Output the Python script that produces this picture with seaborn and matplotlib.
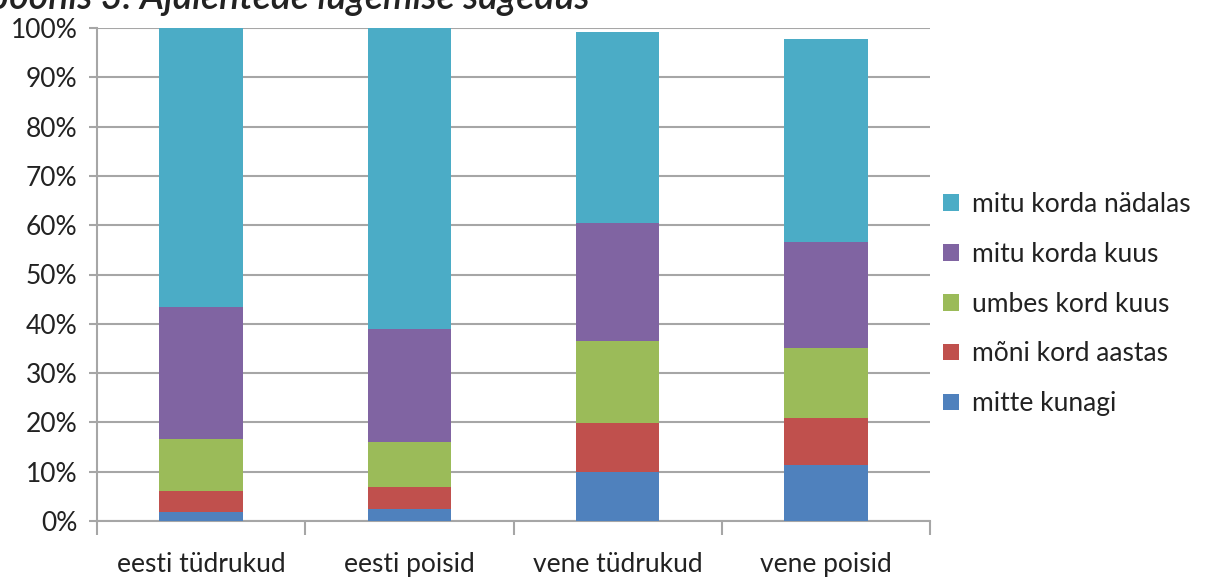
import numpy as np
import matplotlib.pyplot as plt
import pandas as pd
import seaborn as sns

# andmed (protsendid, loetud jooniselt)
groups = ['eesti tüdrukud', 'eesti poisid', 'vene tüdrukud', 'vene poisid']
series = ['mitte kunagi', 'mõni kord aastas', 'umbes kord kuus', 'mitu korda kuus', 'mitu korda nädalas']
mitte_kunagi = [1.8, 2.4, 9.9, 11.4]
moni_kord_aastas = [4.3, 4.5, 10.0, 9.5]
umbes_kord_kuus = [10.5, 9.1, 16.6, 14.2]
mitu_korda_kuus = [26.8, 22.9, 23.9, 21.5]
mitu_korda_nadalas = [56.6, 61.1, 38.8, 41.2]
colors = ['#4F81BD', '#C0504D', '#9BBB59', '#8064A2', '#4BACC6']

values = [mitte_kunagi, moni_kord_aastas, umbes_kord_kuus, mitu_korda_kuus, mitu_korda_nadalas]
rows = []
for s, v in zip(series, values):
    for g, val in zip(groups, v):
        rows.append({'grupp': g, 'sari': s, 'protsent': val})
df = pd.DataFrame(rows)

sns.set_style('white')
plt.rcParams['font.family'] = ['Lato', 'DejaVu Sans']

fig = plt.figure(figsize=(12.18, 5.79), dpi=100)
ax = fig.add_axes([97 / 1218, 1 - 521 / 579, 833 / 1218, 493 / 579])

bottom = np.zeros(len(groups))
for s, c in zip(series, colors):
    d = df[df['sari'] == s]
    sns.barplot(data=d, x='grupp', y='protsent', color=c, saturation=1, width=0.4,
                bottom=bottom, label=s, ax=ax, errorbar=None, linewidth=0, zorder=3)
    bottom += d['protsent'].values

ax.set_ylim(0, 100)
ax.set_xlim(-0.5, 3.5)
ax.set_yticks(range(0, 101, 10))
ax.set_yticklabels([f'{t}%' for t in range(0, 101, 10)], fontsize=19, color='#222222')
ax.yaxis.grid(True, color='#A6A6A6', linewidth=1.5, zorder=0)
ax.set_xlabel('')
ax.set_ylabel('')
ax.set_xticks([0, 1, 2, 3])
ax.set_xticklabels(groups, fontsize=19, color='#222222')
ax.tick_params(axis='x', length=0, pad=22)
ax.tick_params(axis='y', length=6, width=1.5, color='#A6A6A6', left=True, pad=8)
# kategooriate vahelised kriipsud
ax.set_xticks([-0.5, 0.5, 1.5, 2.5, 3.5], minor=True)
ax.tick_params(axis='x', which='minor', length=10, width=1.5, color='#A6A6A6', bottom=True)
for side in ['top', 'right']:
    ax.spines[side].set_visible(False)
ax.spines['left'].set_color('#A6A6A6')
ax.spines['left'].set_linewidth(1.5)
ax.spines['bottom'].set_color('#A6A6A6')
ax.spines['bottom'].set_linewidth(1.5)

handles, labels = ax.get_legend_handles_labels()
ax.legend(handles[::-1], labels[::-1], loc='center left', bbox_to_anchor=(1.0, 0.44),
          frameon=False, fontsize=19, handlelength=0.6, handleheight=0.6,
          labelspacing=0.94, handletextpad=0.5, borderpad=0, labelcolor='#222222')

fig.text(-0.004, 1 - 9 / 579, 'Joonis 3. Ajalehtede lugemise sagedus', fontsize=27,
         fontstyle='italic', fontweight='semibold', ha='left', va='baseline', color='#222222')

fig.savefig('out.png', dpi=100)
